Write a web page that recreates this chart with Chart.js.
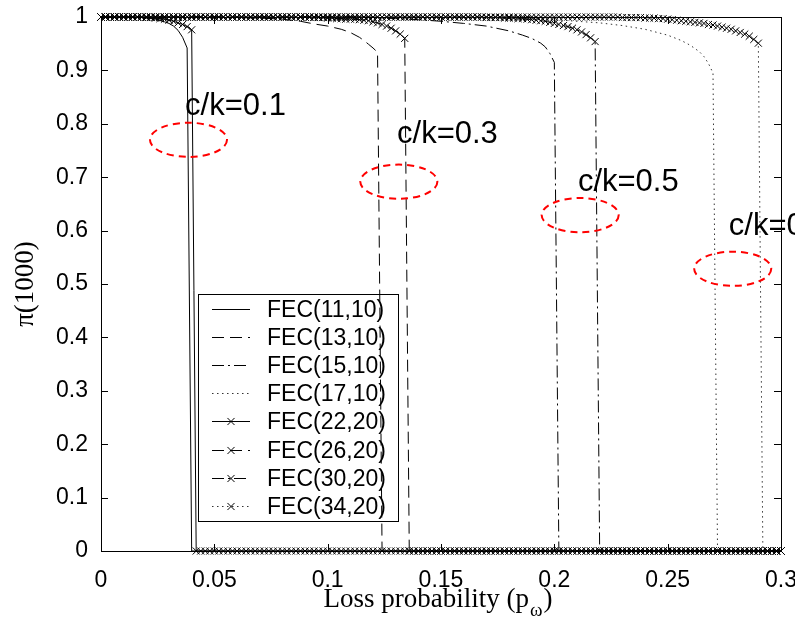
<!DOCTYPE html>
<html>
<head>
<meta charset="utf-8">
<script src="https://cdn.jsdelivr.net/npm/chart.js@4.4.1/dist/chart.umd.min.js"></script>
<style>
  html, body { margin: 0; padding: 0; background: #fff; }
</style>
</head>
<body>
<canvas id="lossChart" width="795" height="618"></canvas>
<script>
// ========= DATA =========
const xTicks = [0, 0.05, 0.1, 0.15, 0.2, 0.25, 0.3];
const yTicks = [0, 0.1, 0.2, 0.3, 0.4, 0.5, 0.6, 0.7, 0.8, 0.9, 1];

const seriesLabels = [
    'FEC(11,10)', 'FEC(13,10)', 'FEC(15,10)', 'FEC(17,10)',
    'FEC(22,20)', 'FEC(26,20)', 'FEC(30,20)', 'FEC(34,20)'
];

// k=10 curves, read as [p, pi] points
const fec11 = [[0, 1], [0.016, 1], [0.020, 0.998], [0.024, 0.996], [0.028, 0.991], [0.030, 0.988],
    [0.032, 0.983], [0.034, 0.975], [0.036, 0.962], [0.038, 0.942], [0.040, 0], [0.3, 0]];
const fec13 = [[0, 1], [0.050, 1], [0.060, 0.999], [0.070, 0.998], [0.080, 0.996], [0.088, 0.992],
    [0.094, 0.987], [0.100, 0.983], [0.106, 0.977], [0.110, 0.971], [0.114, 0.962], [0.116, 0.956],
    [0.118, 0.949], [0.120, 0.942], [0.122, 0.934], [0.124, 0], [0.3, 0]];
const fec15 = [[0, 1], [0.110, 1], [0.120, 0.999], [0.130, 0.997], [0.140, 0.995], [0.150, 0.992],
    [0.160, 0.988], [0.170, 0.983], [0.180, 0.974], [0.186, 0.966], [0.190, 0.960], [0.194, 0.951],
    [0.196, 0.944], [0.198, 0.932], [0.200, 0.915], [0.202, 0], [0.3, 0]];
const fec17 = [[0, 1], [0.150, 1], [0.170, 0.999], [0.190, 0.997], [0.200, 0.995], [0.210, 0.992],
    [0.220, 0.989], [0.230, 0.984], [0.240, 0.977], [0.250, 0.966], [0.256, 0.956], [0.260, 0.947],
    [0.264, 0.935], [0.266, 0.926], [0.268, 0.913], [0.270, 0.895], [0.272, 0], [0.3, 0]];

// k=20 curves, sampled every pStep: 1 before the knee, knee values, then 0
const pStep = 0.002;
const pEnd = 0.3;
const fec22Start = 0.020;
const fec22Knee = [0.999, 0.999, 0.998, 0.997, 0.996, 0.994, 0.992, 0.989, 0.986, 0.982, 0.976];
const fec26Start = 0.094;
const fec26Knee = [0.999, 0.999, 0.999, 0.998, 0.998, 0.997, 0.997, 0.996, 0.996, 0.996, 0.995,
    0.994, 0.993, 0.991, 0.989, 0.986, 0.983, 0.979, 0.974, 0.968, 0.960];
const fec30Start = 0.170;
const fec30Knee = [0.999, 0.999, 0.999, 0.999, 0.998, 0.998, 0.998, 0.997, 0.997, 0.996, 0.995,
    0.994, 0.993, 0.992, 0.990, 0.988, 0.986, 0.984, 0.982, 0.979, 0.976, 0.972, 0.967, 0.961, 0.954];
const fec34Start = 0.230;
const fec34Knee = [0.999, 0.999, 0.999, 0.999, 0.999, 0.998, 0.998, 0.998, 0.997, 0.997, 0.996,
    0.995, 0.994, 0.993, 0.992, 0.991, 0.990, 0.989, 0.988, 0.986, 0.985, 0.983, 0.981, 0.979,
    0.977, 0.974, 0.971, 0.968, 0.964, 0.958, 0.951];

// annotations (data units)
const ckLabels = ['c/k=0.1', 'c/k=0.3', 'c/k=0.5', 'c/k=0.7'];
const ckTextPos = [[0.0371, 0.8165], [0.1306, 0.764], [0.2104, 0.6747], [0.2770, 0.5918]];
const ellipseCenters = [[0.0386, 0.770], [0.1314, 0.6916], [0.2114, 0.629], [0.2787, 0.5285]];
const ellipseRadii = [0.017, 0.032];

// ========= HELPERS =========
const SANS = "'Liberation Sans', Arial, Helvetica, sans-serif";
const SERIF = "'Liberation Serif', 'Times New Roman', serif";

function toPoints(pairs) {
    return pairs.map(p => ({ x: p[0], y: p[1] }));
}

function buildMarked(start, knee) {
    const pts = [];
    const n = Math.round(pEnd / pStep);
    const i0 = Math.round(start / pStep);
    for (let i = 0; i <= n; i++) {
        const p = +(i * pStep).toFixed(3);
        let y = 0;
        if (i < i0) y = 1;
        else if (i - i0 < knee.length) y = knee[i - i0];
        pts.push({ x: p, y });
    }
    return pts;
}

const dashes = {
    solid: [],
    dashed: [12, 6],
    dashdot: [12, 4, 2, 4],
    dotted: [1.5, 3.5]
};

function makeSet(label, data, dash, marked) {
    return {
        label,
        data,
        borderColor: dash === dashes.dotted ? '#333' : '#000',
        borderWidth: 1,
        borderDash: dash,
        tension: 0,
        fill: false,
        clip: false,
        pointRadius: marked ? 5 : 0,
        pointStyle: 'crossRot',
        pointBorderColor: '#000',
        pointBorderWidth: 1,
        pointBackgroundColor: '#000'
    };
}

const datasets = [
    makeSet(seriesLabels[0], toPoints(fec11), dashes.solid, false),
    makeSet(seriesLabels[1], toPoints(fec13), dashes.dashed, false),
    makeSet(seriesLabels[2], toPoints(fec15), dashes.dashdot, false),
    makeSet(seriesLabels[3], toPoints(fec17), dashes.dotted, false),
    makeSet(seriesLabels[4], buildMarked(fec22Start, fec22Knee), dashes.solid, true),
    makeSet(seriesLabels[5], buildMarked(fec26Start, fec26Knee), dashes.dashed, true),
    makeSet(seriesLabels[6], buildMarked(fec30Start, fec30Knee), dashes.dashdot, true),
    makeSet(seriesLabels[7], buildMarked(fec34Start, fec34Knee), dashes.dotted, true)
];

// ========= PLUGINS =========
// box + inward ticks on all four sides (MATLAB style)
const framePlugin = {
    id: 'frame',
    beforeDatasetsDraw(chart) {
        const { ctx, chartArea: a, scales } = chart;
        const tl = 7;
        ctx.save();
        ctx.strokeStyle = '#000';
        ctx.lineWidth = 1;
        ctx.setLineDash([]);
        ctx.strokeRect(a.left + 0.5, a.top + 0.5, a.right - a.left, a.bottom - a.top);
        ctx.beginPath();
        xTicks.forEach(v => {
            const px = Math.round(scales.x.getPixelForValue(v)) + 0.5;
            ctx.moveTo(px, a.bottom); ctx.lineTo(px, a.bottom - tl);
            ctx.moveTo(px, a.top); ctx.lineTo(px, a.top + tl);
        });
        yTicks.forEach(v => {
            const py = Math.round(scales.y.getPixelForValue(v)) + 0.5;
            ctx.moveTo(a.left, py); ctx.lineTo(a.left + tl, py);
            ctx.moveTo(a.right, py); ctx.lineTo(a.right - tl, py);
        });
        ctx.stroke();
        ctx.restore();
    }
};

// ellipses, c/k labels and the legend box
const overlayPlugin = {
    id: 'overlay',
    afterDatasetsDraw(chart) {
        const { ctx, scales } = chart;
        const xs = scales.x, ys = scales.y;
        ctx.save();

        // red dashed ellipses
        ctx.strokeStyle = '#ff0000';
        ctx.lineWidth = 2;
        ctx.setLineDash([7, 5]);
        ellipseCenters.forEach(c => {
            const cx = xs.getPixelForValue(c[0]);
            const cy = ys.getPixelForValue(c[1]);
            const rx = xs.getPixelForValue(c[0] + ellipseRadii[0]) - cx;
            const ry = cy - ys.getPixelForValue(c[1] + ellipseRadii[1]);
            ctx.beginPath();
            ctx.ellipse(cx, cy, rx, ry, 0, 0, Math.PI * 2);
            ctx.stroke();
        });

        // c/k labels
        ctx.setLineDash([]);
        ctx.fillStyle = '#000';
        ctx.font = '31px ' + SANS;
        ctx.textAlign = 'left';
        ctx.textBaseline = 'alphabetic';
        ckLabels.forEach((t, i) => {
            ctx.fillText(t, xs.getPixelForValue(ckTextPos[i][0]), ys.getPixelForValue(ckTextPos[i][1]));
        });

        // legend
        const lg = { left: 198.5, top: 294.5, right: 398.5, bottom: 521.5, first: 308.5, step: 28.2 };
        ctx.strokeStyle = '#000';
        ctx.lineWidth = 1;
        ctx.strokeRect(lg.left, lg.top, lg.right - lg.left, lg.bottom - lg.top);
        ctx.font = '23px ' + SANS;
        ctx.textBaseline = 'middle';
        chart.data.datasets.forEach((ds, i) => {
            const y = Math.round(lg.first + i * lg.step) + 0.5;
            ctx.strokeStyle = ds.borderColor;
            ctx.setLineDash(ds.borderDash);
            ctx.beginPath();
            ctx.moveTo(212, y);
            ctx.lineTo(250, y);
            ctx.stroke();
            ctx.setLineDash([]);
            if (ds.pointRadius > 0) {
                const r = ds.pointRadius * Math.SQRT1_2;
                ctx.strokeStyle = '#000';
                ctx.beginPath();
                ctx.moveTo(231 - r, y - r); ctx.lineTo(231 + r, y + r);
                ctx.moveTo(231 + r, y - r); ctx.lineTo(231 - r, y + r);
                ctx.stroke();
            }
            ctx.fillStyle = '#000';
            ctx.fillText(ds.label, 267, y + 1);
        });
        ctx.restore();
    },
    afterDraw(chart) {
        const { ctx, chartArea: a } = chart;
        ctx.save();
        ctx.fillStyle = '#000';

        // x title with subscript omega
        const main = 'Loss probability (p';
        const sub = '\u03c9';
        const tail = ')';
        ctx.font = '27px ' + SERIF;
        const w1 = ctx.measureText(main).width;
        const w3 = ctx.measureText(tail).width;
        ctx.font = '19px ' + SERIF;
        const w2 = ctx.measureText(sub).width;
        let x = (a.left + a.right) / 2 - (w1 + w2 + w3) / 2 - 4;
        const base = 607;
        ctx.textAlign = 'left';
        ctx.textBaseline = 'alphabetic';
        ctx.font = '27px ' + SERIF;
        ctx.fillText(main, x, base);
        x += w1 + 1;
        ctx.font = '19px ' + SERIF;
        ctx.fillText(sub, x, base + 9);
        x += w2 + 1;
        ctx.font = '27px ' + SERIF;
        ctx.fillText(tail, x, base);

        // y title
        ctx.translate(33, (a.top + a.bottom) / 2);
        ctx.rotate(-Math.PI / 2);
        ctx.textAlign = 'center';
        ctx.fillText('\u03c0(1000)', 0, 0);
        ctx.restore();
    }
};

// ========= CHART =========
function initLossChart() {
    const canvas = document.getElementById('lossChart');
    const ctx = canvas.getContext('2d');

    new Chart(ctx, {
        type: 'line',
        data: { datasets },
        options: {
            responsive: false,
            animation: false,
            devicePixelRatio: 1,
            events: [],
            layout: { padding: { top: 17, right: 14, left: 0, bottom: 0 } },
            plugins: {
                legend: { display: false },
                tooltip: { enabled: false }
            },
            scales: {
                x: {
                    type: 'linear',
                    min: 0,
                    max: 0.3,
                    grid: { display: false },
                    border: { display: false },
                    ticks: {
                        color: '#000',
                        font: { family: SANS, size: 23 },
                        padding: 8,
                        maxRotation: 0,
                        autoSkip: false,
                        callback: v => String(+v.toFixed(3))
                    },
                    afterBuildTicks: s => { s.ticks = xTicks.map(v => ({ value: v })); },
                    afterFit: s => {
                        s.height = 67;
                        s.paddingLeft = 0;
                        s.paddingRight = 0;
                    }
                },
                y: {
                    min: 0,
                    max: 1,
                    grid: { display: false },
                    border: { display: false },
                    ticks: {
                        color: '#000',
                        font: { family: SANS, size: 23 },
                        padding: 5,
                        autoSkip: false,
                        callback: v => String(+v.toFixed(2))
                    },
                    afterBuildTicks: s => { s.ticks = yTicks.map(v => ({ value: v })); },
                    afterFit: s => {
                        s.width = 101;
                        s.paddingTop = 0;
                        s.paddingBottom = 0;
                    }
                }
            }
        },
        plugins: [framePlugin, overlayPlugin]
    });
}

document.addEventListener('DOMContentLoaded', initLossChart);
</script>
</body>
</html>
